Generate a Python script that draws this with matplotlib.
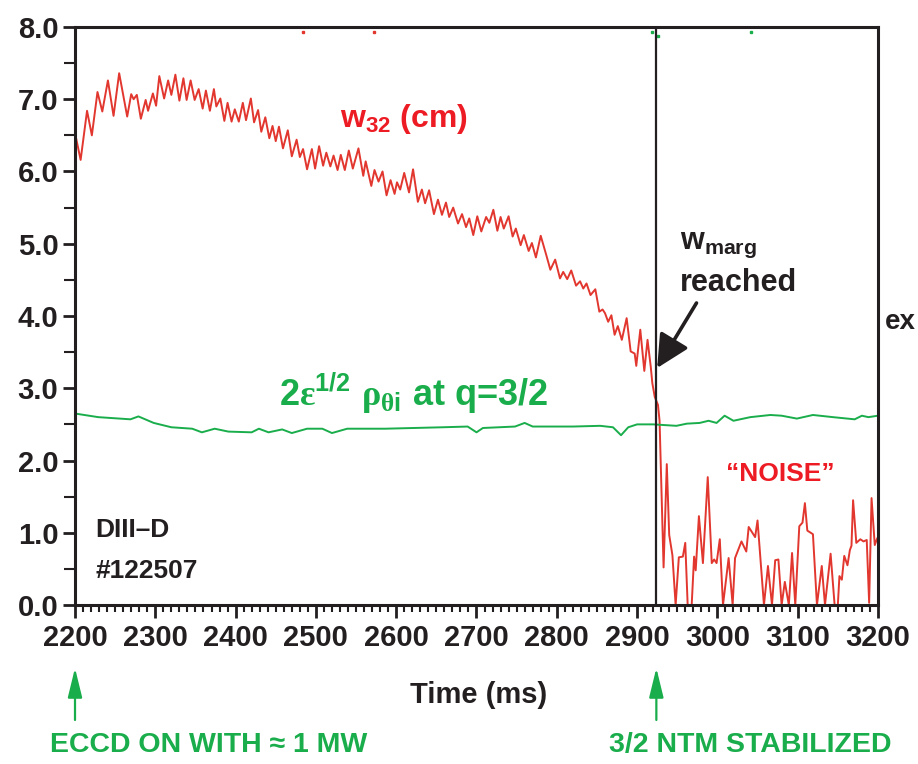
import matplotlib
matplotlib.use("Agg")
import matplotlib.pyplot as plt
from matplotlib.ticker import MultipleLocator

plt.rcParams['font.family'] = ['Liberation Sans', 'DejaVu Sans']
plt.rcParams['font.weight'] = 'bold'
plt.rcParams['mathtext.default'] = 'regular'
plt.rcParams['mathtext.fontset'] = 'custom'
plt.rcParams['mathtext.rm'] = 'Liberation Serif'

# w32 island width (cm)
t_w32 = [2201, 2207, 2215, 2221, 2228, 2234, 2241, 2248, 2255, 2265, 2270, 2273, 2277, 2282,
         2288, 2291, 2297, 2301, 2305, 2311, 2316, 2320, 2325, 2330, 2335, 2339, 2344, 2349,
         2354, 2359, 2363, 2368, 2373, 2376, 2381, 2386, 2390, 2395, 2399, 2404, 2409, 2413,
         2419, 2423, 2428, 2432, 2437, 2442, 2446, 2450, 2454, 2459, 2465, 2470, 2476, 2480,
         2484, 2489, 2495, 2499, 2504, 2509, 2513, 2518, 2522, 2527, 2531, 2536, 2541, 2546,
         2553, 2559, 2562, 2569, 2573, 2578, 2583, 2588, 2593, 2598, 2601, 2605, 2610, 2616,
         2621, 2627, 2632, 2636, 2641, 2647, 2652, 2657, 2662, 2666, 2671, 2677, 2682, 2687,
         2691, 2696, 2701, 2706, 2712, 2716, 2721, 2726, 2730, 2734, 2740, 2745, 2749, 2755,
         2759, 2765, 2769, 2774, 2780, 2787, 2792, 2798, 2804, 2808, 2813, 2818, 2824, 2829,
         2833, 2837, 2842, 2848, 2853, 2857, 2860, 2864, 2868, 2872, 2876, 2881, 2887, 2892,
         2897, 2899, 2904, 2909, 2913, 2917, 2919, 2922, 2926, 2928, 2933,
         2937, 2940, 2944, 2948, 2952, 2957, 2960, 2963, 2968, 2971, 2973, 2977, 2982, 2988,
         2993, 2996, 2999, 3003, 3007, 3014, 3019, 3022, 3030, 3036, 3039, 3047, 3050, 3058,
         3063, 3068, 3072, 3076, 3080, 3084, 3089, 3093, 3097, 3102, 3106, 3109, 3112, 3119,
         3124, 3130, 3134, 3141, 3146, 3150, 3152, 3155, 3158, 3162, 3165, 3167, 3169, 3173,
         3178, 3182, 3186, 3189, 3192, 3196, 3199]
w32 = [6.48, 6.16, 6.84, 6.50, 7.10, 6.83, 7.26, 6.77, 7.36, 6.76, 7.07, 7.00, 7.06, 6.73,
       6.99, 6.84, 7.08, 6.91, 7.32, 7.01, 7.26, 7.06, 7.34, 6.98, 7.29, 6.99, 7.26, 6.99,
       7.14, 6.87, 7.12, 6.84, 7.14, 6.90, 7.01, 6.70, 6.95, 6.69, 6.86, 6.69, 6.95, 6.71,
       7.01, 6.68, 6.85, 6.55, 6.75, 6.46, 6.63, 6.42, 6.62, 6.32, 6.57, 6.21, 6.44, 6.20,
       6.31, 6.03, 6.31, 6.04, 6.35, 6.08, 6.26, 6.07, 6.22, 6.02, 6.23, 6.02, 6.29, 6.04,
       6.32, 5.94, 6.14, 5.80, 6.02, 5.86, 6.00, 5.67, 5.88, 5.69, 5.85, 5.75, 5.98, 5.71,
       6.03, 5.58, 5.75, 5.56, 5.74, 5.41, 5.61, 5.40, 5.57, 5.37, 5.50, 5.28, 5.41, 5.23,
       5.35, 5.12, 5.38, 5.17, 5.37, 5.29, 5.47, 5.18, 5.37, 5.21, 5.38, 5.10, 5.21, 4.98,
       5.12, 4.90, 5.01, 4.81, 5.11, 4.84, 4.64, 4.78, 4.52, 4.61, 4.51, 4.63, 4.42, 4.48,
       4.38, 4.45, 4.29, 4.37, 4.06, 4.09, 4.04, 3.92, 4.01, 3.74, 3.86, 3.67, 3.97, 3.51,
       3.48, 3.31, 3.81, 3.24, 3.67, 3.30, 3.07, 2.88, 2.77, 2.55, 0.52,
       1.95, 0.97, 0.69, 0.00, 0.66, 0.67, 0.86, 0.00, 0.00, 0.67, 0.48, 1.23, 0.58, 1.77,
       0.58, 0.63, 0.58, 0.91, 0.00, 0.65, 0.00, 0.65, 0.88, 0.74, 1.08, 0.94, 1.17, 0.00,
       0.54, 0.00, 0.62, 0.63, 0.00, 0.32, 0.00, 0.72, 0.00, 1.09, 1.14, 1.41, 1.03, 0.98,
       0.00, 0.54, 0.00, 0.71, 0.00, 0.00, 0.40, 0.35, 0.68, 0.55, 0.76, 0.82, 1.45, 0.86,
       0.91, 0.88, 0.90, 0.03, 1.48, 0.83, 0.92]

# 2 eps^1/2 rho_theta_i at q=3/2
t_rho = [2200, 2229, 2269, 2279, 2298, 2320, 2346, 2358, 2374, 2391, 2420, 2429, 2441, 2458,
         2470, 2489, 2508, 2520, 2539, 2586, 2658, 2689, 2700, 2708, 2748, 2760, 2770, 2820,
         2854, 2870, 2880, 2889, 2900, 2920, 2949, 2962, 2978, 2989, 2999, 3009, 3020, 3041,
         3066, 3080, 3099, 3119, 3144, 3171, 3180, 3188, 3200]
rho = [2.65, 2.60, 2.57, 2.61, 2.52, 2.46, 2.44, 2.39, 2.44, 2.40, 2.39, 2.44, 2.39, 2.43,
       2.38, 2.44, 2.44, 2.38, 2.44, 2.44, 2.46, 2.47, 2.39, 2.45, 2.47, 2.52, 2.47, 2.47,
       2.48, 2.46, 2.35, 2.46, 2.50, 2.50, 2.48, 2.51, 2.52, 2.55, 2.52, 2.62, 2.55, 2.60,
       2.63, 2.62, 2.58, 2.63, 2.60, 2.57, 2.62, 2.60, 2.62]

# stray points just under the top edge
t_dot_red = [2484, 2572]
t_dot_green = [2918, 2926, 3042]
y_dot_red = [7.93, 7.93]
y_dot_green = [7.93, 7.88, 7.93]

t_stab = 2924
red = '#e2372f'
red_txt = '#ed1c24'
green = '#1aad4b'
ink = '#231f20'

fig = plt.figure(figsize=(9.18, 7.64), dpi=100)
ax = fig.add_axes([0.0817, 0.2081, 0.8747, 0.7566])

ax.plot(t_w32, w32, color=red, lw=1.4, solid_joinstyle='round')
ax.plot(t_rho, rho, color=green, lw=1.4)
ax.plot(t_dot_red, y_dot_red, 's', ms=1.5, color=red)
ax.plot(t_dot_green, y_dot_green, 's', ms=1.5, color=green)
ax.axvline(t_stab, color=ink, lw=1.6)

ax.set_xlim(2200, 3200)
ax.set_ylim(0, 8)
ax.xaxis.set_major_locator(MultipleLocator(100))
ax.xaxis.set_minor_locator(MultipleLocator(10))
ax.yaxis.set_major_locator(MultipleLocator(1))
ax.yaxis.set_minor_locator(MultipleLocator(0.5))
ax.yaxis.set_major_formatter(lambda v, p: f'{v:.1f}')
ax.tick_params(which='major', direction='out', length=9, width=2, labelsize=21, colors=ink)
ax.tick_params(which='minor', direction='out', length=5, width=1.5, colors=ink)
ax.tick_params(axis='x', which='major', pad=5)
ax.tick_params(axis='y', which='major', pad=3)
ax.tick_params(axis='y', which='minor', length=8)
for s in ax.spines.values():
    s.set_linewidth(2.2)
    s.set_color(ink)

ax.set_xlabel('Time (ms)', fontsize=21, fontweight='bold', color=ink)
ax.xaxis.set_label_coords(0.503, -0.156)
ax.xaxis.label.set_va('center')

ax.text(2610, 6.72, r'w$_{32}$ (cm)', color=red_txt, fontsize=23, ha='center', va='center')
ax.text(2622, 2.93, r'2$\mathrm{ε}^{1/2}$ $\mathrm{ρ}_{\mathrm{θ}i}$ at q=3/2', color=green,
        fontsize=26, ha='center', va='center')
ax.text(2953, 4.98, r'w$_{marg}$', color=ink, fontsize=22, ha='left', va='center')
ax.text(2953, 4.45, 'reached', color=ink, fontsize=22, ha='left', va='center')
ax.text(3078, 1.81, '\u201cNOISE\u201d', color=red_txt, fontsize=19, ha='center', va='center')
ax.text(2225, 1.04, 'DIII\u2013D', color=ink, fontsize=19, ha='left', va='center')
ax.text(2225, 0.47, '#122507', color=ink, fontsize=19, ha='left', va='center')
fig.text(885 / 918, 1 - 322 / 764, 'ex', color=ink, fontsize=20, ha='left', va='center')

ax.annotate('', xy=(t_stab + 1, 3.28), xytext=(2974, 4.18),
            arrowprops=dict(arrowstyle='-|>,head_length=1.0,head_width=0.5', lw=2.6,
                            color=ink, mutation_scale=20, shrinkA=0, shrinkB=0))

for tx in (2200, t_stab):
    ax.annotate('', xy=(tx, 1 - 668 / 764), xytext=(tx, 1 - 720 / 764),
                xycoords=('data', 'figure fraction'), textcoords=('data', 'figure fraction'),
                arrowprops=dict(arrowstyle='-|>,head_length=0.9,head_width=0.22', lw=1.6,
                                color=green, mutation_scale=20, shrinkA=0, shrinkB=0),
                annotation_clip=False)

fig.text(50 / 918, 1 - 745 / 764, 'ECCD ON WITH \u2248 1 MW', color=green, fontsize=20.5,
         ha='left', va='center')
fig.text(609 / 918, 1 - 745 / 764, '3/2 NTM STABILIZED', color=green, fontsize=20.5,
         ha='left', va='center')

fig.savefig('out.png', dpi=100)
